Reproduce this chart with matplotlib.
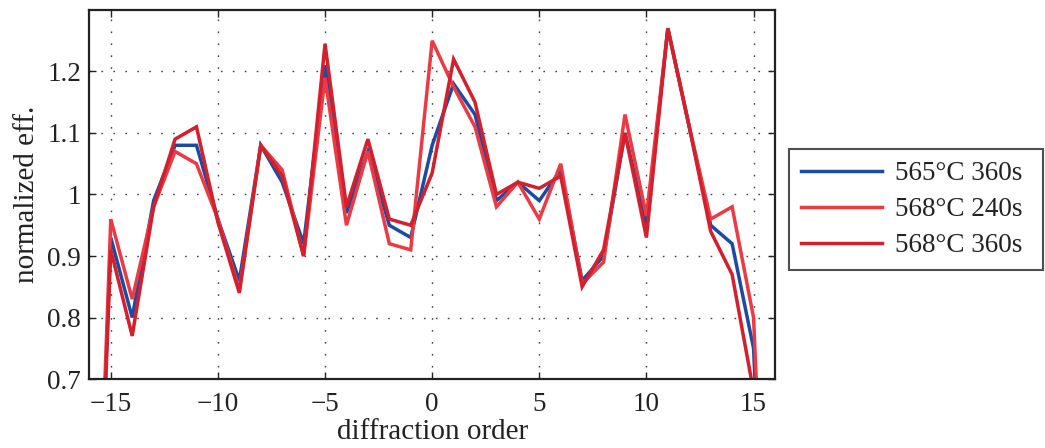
import matplotlib
matplotlib.use("Agg")
import matplotlib.pyplot as plt
import numpy as np

plt.rcParams['font.family'] = ['Liberation Serif', 'DejaVu Serif']

# diffraction orders (outermost orders carry no measured efficiency)
orders = np.arange(-16, 17)

eff_565_360 = [0.0,
               0.93, 0.80, 0.99, 1.08, 1.08, 0.96, 0.86, 1.08, 1.02, 0.92,
               1.21, 0.97, 1.07, 0.95, 0.93, 1.08, 1.18, 1.13, 0.99, 1.02,
               0.99, 1.04, 0.86, 0.90, 1.10, 0.95, 1.27, 1.11, 0.95, 0.92,
               0.75,
               0.0]

eff_568_240 = [0.0,
               0.96, 0.83, 0.98, 1.07, 1.05, 0.96, 0.845, 1.08, 1.04, 0.90,
               1.19, 0.95, 1.07, 0.92, 0.91, 1.25, 1.175, 1.11, 0.98, 1.02,
               0.96, 1.05, 0.855, 0.89, 1.13, 0.965, 1.27, 1.11, 0.96, 0.98,
               0.80,
               0.0]

eff_568_360 = [0.0,
               0.91, 0.77, 0.98, 1.09, 1.11, 0.955, 0.84, 1.08, 1.03, 0.90,
               1.245, 0.98, 1.09, 0.96, 0.95, 1.035, 1.22, 1.15, 1.00, 1.02,
               1.01, 1.03, 0.85, 0.91, 1.10, 0.93, 1.27, 1.11, 0.94, 0.87,
               0.68,
               0.0]

series_labels = ['565°C 360s', '568°C 240s', '568°C 360s']
series_colors = ['#1c4ba3', '#ec3a44', '#d41f2c']

x_ticks = [-15, -10, -5, 0, 5, 10, 15]
y_ticks = [0.7, 0.8, 0.9, 1.0, 1.1, 1.2]
y_tick_labels = ['0.7', '0.8', '0.9', '1', '1.1', '1.2']

fig = plt.figure(figsize=(10.45, 4.48), dpi=100)
ax = fig.add_axes([0.0855, 0.154, 0.6561, 0.8237])

for vals, lab, col in zip([eff_565_360, eff_568_240, eff_568_360],
                          series_labels, series_colors):
    ax.plot(orders, vals, color=col, lw=2.5, label=lab, solid_joinstyle='miter')

ax.set_xlim(-16, 16)
ax.set_ylim(0.7, 1.3)
ax.set_xticks(x_ticks)
ax.set_yticks(y_ticks)
ax.set_yticklabels(y_tick_labels)

ax.grid(True, color='#444444', lw=1.0, linestyle=(0, (1.2, 7.4)))
ax.tick_params(direction='in', length=5, width=1.0, top=True, right=True,
               labelsize=19.5, colors='#222222')
ax.tick_params(axis='x', pad=9)
ax.tick_params(axis='y', pad=6)
for sp in ax.spines.values():
    sp.set_linewidth(1.6)
    sp.set_color('#222222')

ax.set_xlabel('diffraction order', fontsize=21, labelpad=2, color='#222222')
ax.set_ylabel('normalized eff.', fontsize=21, labelpad=5, color='#222222')

leg = fig.legend(loc='upper left', bbox_to_anchor=(0.755, 0.667, 0.243, 0.0),
                 mode='expand',
                 fontsize=19.5, frameon=True, fancybox=False,
                 handlelength=3.0, handletextpad=0.45, labelspacing=0.4,
                 borderpad=0.45, borderaxespad=0)
leg.get_frame().set_edgecolor('#222222')
leg.get_frame().set_linewidth(1.5)
for t in leg.get_texts():
    t.set_color('#222222')

fig.savefig('out.png', dpi=100)
